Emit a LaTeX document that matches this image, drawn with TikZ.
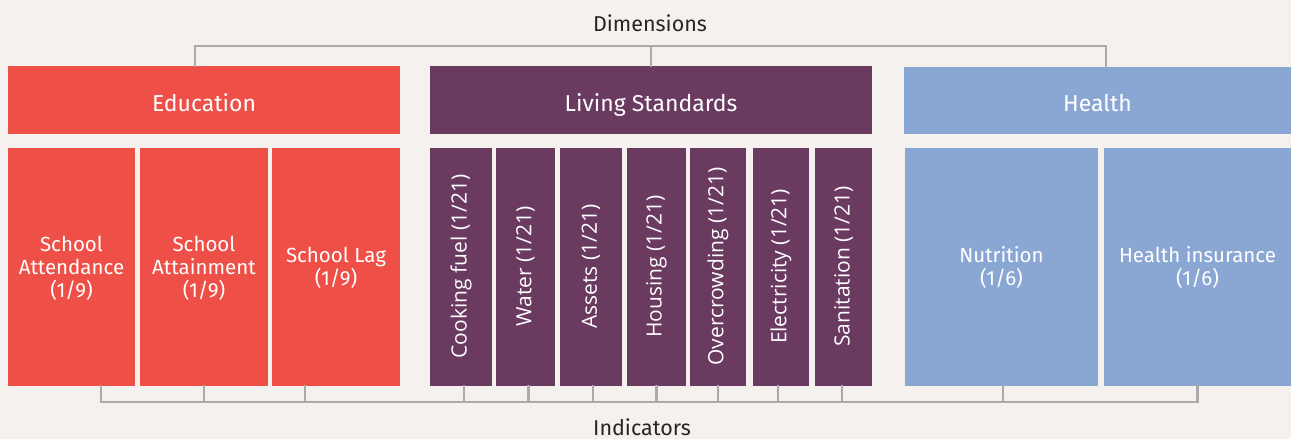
\documentclass[tikz,border=0pt]{standalone}
\usepackage{fontspec}
\setmainfont{Fira Sans}
\newfontfamily\rotfont{Open Sans}
\usepackage{tikz}
\usetikzlibrary{calc, positioning}
\usepackage{xcolor}
\definecolor{paper}{RGB}{244, 241, 238}
\definecolor{edured}{RGB}{238, 80, 71}
\definecolor{livingplum}{RGB}{106, 58, 97}
\definecolor{healthblue}{RGB}{138, 166, 211}
\definecolor{bracketgrey}{RGB}{171, 171, 171}

\tikzset{
    dimbox/.style={fill=#1, text=white, inner sep=0pt, minimum height=68pt, text height=22.5pt, text depth=0pt, font=\fontsize{23}{27}\selectfont},
    indbox/.style={fill=#1, text=white, inner sep=0pt, minimum height=238pt, align=center, text depth=-2pt, font=\fontsize{20.5}{23}\selectfont},
    rotbox/.style={indbox=#1, text depth=0pt, font=\rotfont\fontsize{21}{25}\selectfont},
    bracket/.style={draw=bracketgrey, line width=2.2pt, line cap=rect},
    caption/.style={text=black!85, anchor=base, font=\fontsize{21.5}{25}\selectfont}
}

\begin{document}
\begin{tikzpicture}[x=1pt, y=-1pt, line join=miter]
    	\useasboundingbox[fill=paper] (0,0) rectangle (1291,439);

    	\coordinate (dimbar) at (0,46);
    	\coordinate (indbar) at (0,402);

		% dimensions
		\node[caption] (dims) at (650,31) {Dimensions};
		\node[dimbox=edured, minimum width=392pt] (edu) at (204,100) {Education};
		\node[dimbox=livingplum, minimum width=442pt] (liv) at (651,100) {Living Standards};
		\node[dimbox=healthblue, minimum width=387pt, minimum height=67pt] (hlt) at (1097.5,100.5) {Health};

		% indicators
		\node[indbox=edured, minimum width=127pt] (attend) at (71.5,266.5) {School\\Attendance\\(1/9)};
		\node[indbox=edured, minimum width=128pt] (attain) at (204,266.5) {School\\Attainment\\(1/9)};
		\node[indbox=edured, minimum width=128pt] (lag) at (336,266.5) {School Lag\\(1/9)};

		\node[rotbox=livingplum, minimum width=62pt] (cook) at (461,266.5) {\rotatebox{90}{Cooking fuel (1/21)}};
		\node[rotbox=livingplum, minimum width=59pt] (water) at (525.5,266.5) {\rotatebox{90}{Water (1/21)}};
		\node[rotbox=livingplum, minimum width=62pt] (assets) at (591,266.5) {\rotatebox{90}{Assets (1/21)}};
		\node[rotbox=livingplum, minimum width=59pt] (housing) at (656.5,266.5) {\rotatebox{90}{Housing (1/21)}};
		\node[rotbox=livingplum, minimum width=56pt] (crowd) at (718,266.5) {\rotatebox{90}{Overcrowding (1/21)}};
		\node[rotbox=livingplum, minimum width=56pt] (elec) at (781,266.5) {\rotatebox{90}{Electricity (1/21)}};
		\node[rotbox=livingplum, minimum width=57pt] (sanit) at (843.5,266.5) {\rotatebox{90}{Sanitation (1/21)}};

		\node[indbox=healthblue, minimum width=193pt] (nutri) at (1001.5,266.5) {Nutrition\\(1/6)};
		\node[indbox=healthblue, minimum width=187pt] (insur) at (1197.5,266.5) {Health insurance\\(1/6)};

		\node[caption] (inds) at (642,435.5) {Indicators};

		% top bracket
		\draw [bracket] ($(edu.north)+(-9,0)$) -- ($(edu.north |- dimbar)+(-9,0)$) -- ($(hlt.north |- dimbar)+(8.5,0)$) -- ($(hlt.north)+(8.5,0)$);
		\draw [bracket] (liv.north) -- (liv.north |- dimbar);

		% bottom bracket
		\draw [bracket] ($(attend.south)+(29.5,0)$) -- ($(attend.south |- indbar)+(29.5,0)$) -- (insur.south |- indbar) -- (insur.south);
		\draw [bracket] (attain.south) -- (attain.south |- indbar);
		\draw [bracket] ($(lag.south)+(-31,0)$) -- ($(lag.south |- indbar)+(-31,0)$);
		\draw [bracket] ($(cook.south)+(3,0)$) -- ($(cook.south |- indbar)+(3,0)$);
		\draw [bracket] ($(water.south)+(3,0)$) -- ($(water.south |- indbar)+(3,0)$);
		\draw [bracket] ($(assets.south)+(2,0)$) -- ($(assets.south |- indbar)+(2,0)$);
		\draw [bracket] (housing.south) -- (housing.south |- indbar);
		\draw [bracket] (crowd.south) -- (crowd.south |- indbar);
		\draw [bracket] ($(elec.south)+(-3,0)$) -- ($(elec.south |- indbar)+(-3,0)$);
		\draw [bracket] ($(sanit.south)+(-1.5,0)$) -- ($(sanit.south |- indbar)+(-1.5,0)$);
		\draw [bracket] ($(nutri.south)+(1.5,0)$) -- ($(nutri.south |- indbar)+(1.5,0)$);
    \end{tikzpicture}
\end{document}
